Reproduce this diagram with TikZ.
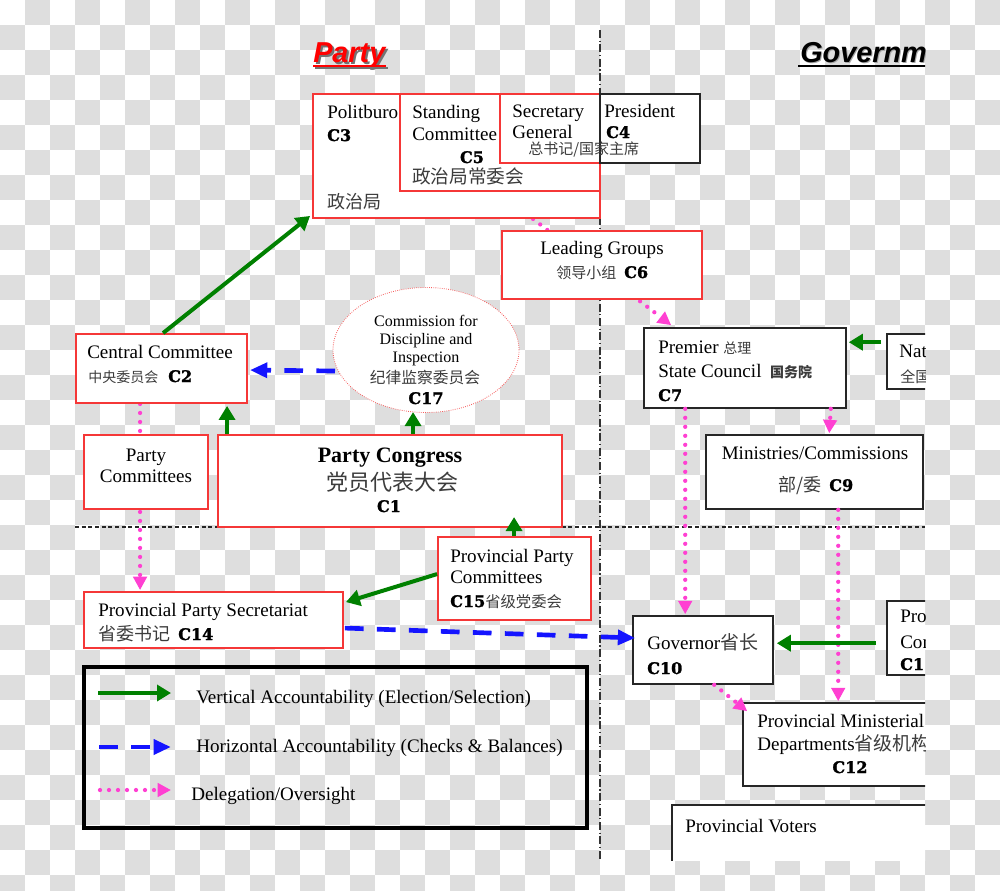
\documentclass[tikz,border=0pt]{standalone}
\usepackage{fontspec}
\setmainfont{Liberation Serif}
\newfontfamily\cjk{Noto Sans CJK SC}
\newfontfamily\clabfont{DejaVu Serif}
\newfontfamily\titlefont{Liberation Sans}
\usetikzlibrary{arrows.meta,shapes.geometric,fit,calc}
\definecolor{pred}{RGB}{245,55,55}
\definecolor{pgreen}{RGB}{0,128,0}
\definecolor{pblue}{RGB}{20,20,255}
\definecolor{pmag}{RGB}{255,64,210}
\definecolor{chk}{RGB}{222,222,222}
\definecolor{zhgray}{RGB}{60,60,60}
\newcommand\Ctag[1]{{\clabfont\bfseries\addfontfeature{FakeBold=1.6}\fontsize{12}{12}\selectfont #1}}
\newcommand\zh[2]{{\cjk\color{zhgray}\fontsize{#1}{#1}\selectfont #2}}
\pgfdeclarelayer{back}
\pgfdeclarelayer{mid}
\pgfsetlayers{back,mid,main}
\begin{document}
\begin{tikzpicture}[x=0.75pt,y=-0.75pt,
  redbox/.style={draw=pred, line width=1.4pt, fill=white, inner sep=0pt},
  blkbox/.style={draw=black!85, line width=1.2pt, fill=white, inner sep=0pt},
  tx/.style={inner sep=0pt, anchor=base west, font=\fontsize{14.3}{17}\selectfont},
  tc/.style={inner sep=0pt, anchor=base, font=\fontsize{14.3}{17}\selectfont},
  tsm/.style={inner sep=0pt, anchor=base, font=\fontsize{12}{14}\selectfont},
  ttl/.style={inner sep=0pt, anchor=base west, font=\titlefont\bfseries\itshape\fontsize{21.6}{24}\selectfont},
  garrow/.style={draw=pgreen, line width=3pt, -{Triangle[length=10.5pt,width=12pt]}},
  barrow/.style={draw=pblue, line width=3.5pt, dash pattern=on 14pt off 10pt, -{Triangle[length=13pt,width=11pt]}},
  parrow/.style={draw=pmag, line width=3.2pt, line cap=round, dash pattern=on 0pt off 6.75pt, -{Triangle[length=10pt,width=10pt]}}
]
\useasboundingbox (0,0) rectangle (1000,890);
\begin{pgfonlayer}{back}
  \fill[white] (0,0) rectangle (1000,890);
  \foreach \j in {0,...,35}{\foreach \i in {0,...,19}{
    \fill[chk] ({(2*\i+mod(\j+1,2))*25},{\j*25}) rectangle ++(25,25);}}
\end{pgfonlayer}
\begin{pgfonlayer}{mid}
  \draw[black!80, line width=1.1pt, dash pattern=on 6pt off 2pt on 0.8pt off 2pt] (600,30) -- (600,860);
  \draw[black!85, line width=1.2pt, dash pattern=on 3pt off 2pt] (75,527) -- (925,527);
\end{pgfonlayer}

\begin{scope}
\clip (0,0) rectangle (925,860);
% titles
\node[ttl, text=black!55] (ps) at (315,64) {Party};
\node[ttl, text=red] (pt) at (313,62) {Party};
\draw[black!55, line width=2.2pt] ($(ps.base west)+(0,4)$) -- ($(ps.base east)+(0,4)$);
\draw[red, line width=2.2pt] ($(pt.base west)+(0,4)$) -- ($(pt.base east)+(0,4)$);
\node[ttl, text=black!35] (gs) at (801,63) {Government};
\node[ttl, text=black] (gt) at (800,62) {Government};
\draw[black, line width=2pt] ($(gt.base west)+(-2,4)$) -- ($(gt.base east)+(0,4)$);

% boxes
\node[redbox, fit={(313,94)(600,218)}] (pb) {};
\node[redbox, fit={(400,94)(600,191)}] (sc) {};
\node[redbox, fit={(500,94)(600,163)}] (sg) {};
\node[blkbox, fit={(600,94)(700,163)}] (pres) {};
\node[redbox, fit={(502,231)(702,299)}] (lg) {};
\node[ellipse, draw=pred!80, densely dotted, line width=0.6pt, fill=white, inner sep=0pt,
      minimum width=139.5pt, minimum height=93.75pt] (cdi) at (426,350) {};
\node[redbox, fit={(76,334)(247,403)}] (cc) {};
\node[redbox, fit={(84,435)(208,509)}] (pcm) {};
\node[redbox, fit={(218,435)(562,527)}] (pcg) {};
\node[blkbox, fit={(644,328)(846,408)}] (prem) {};
\node[blkbox, fit={(887,334)(960,389)}] (nat) {};
\node[blkbox, fit={(706,435)(923,509)}] (min) {};
\node[redbox, fit={(438,537)(591,620)}] (ppc) {};
\node[redbox, fit={(84,592)(343,648)}] (pps) {};
\node[blkbox, fit={(633,616)(773,684)}] (gov) {};
\node[blkbox, fit={(743,703)(960,786)}] (pmd) {};
\node[blkbox, fit={(887,601)(960,675)}] (pro) {};
\node[blkbox, fit={(672,805)(960,900)}] (vot) {};
\node[draw=black, line width=2.4pt, inner sep=0pt, fit={(84,667)(587,828)}] (leg) {};

% texts
\node[tx] (t1) at (327,118) {Politburo};
\node[tx] (t2) at (327,141) {\Ctag{C3}};
\node[tx] (t3) at (327,208) {\zh{13.5}{政治局}};
\node[tx] (t4) at (412,118) {Standing};
\node[tx] (t5) at (412,140) {Committee};
\node[tc] (t6) at (472,163) {\Ctag{C5}};
\node[tx] (t7) at (412,183) {\zh{14}{政治局常委会}};
\node[tx] (t8) at (512,117) {Secretary};
\node[tx] (t9) at (512,138) {General};
\node[tx] (t10) at (604,117) {President};
\node[tx] (t11) at (606,138) {\Ctag{C4}};
\node[tx] (t12) at (528,154) {\zh{11.25}{总书记/国家主席}};
\node[tc] (t13) at (602,254) {Leading Groups};
\node[tx] (t14) at (556,278) {\zh{11.25}{领导小组}\hspace{6pt}\Ctag{C6}};
\node[tx] (t15) at (87,358) {Central Committee};
\node[tx] (t16) at (88,382) {\zh{10.5}{中央委员会}\hspace{7.5pt}\Ctag{C2}};
\node[tsm] (t17) at (426,326) {Commission for};
\node[tsm] (t18) at (426,344) {Discipline and};
\node[tsm] (t19) at (426,362) {Inspection};
\node[tc] (t20) at (425,383) {\zh{11.8}{纪律监察委员会}};
\node[tc] (t21) at (426,404) {\Ctag{C17}};
\node[tc] (t22) at (146,461) {Party};
\node[tc] (t23) at (146,482) {Committees};
\node[tc, font=\bfseries\fontsize{16.5}{18}\selectfont] (t24) at (390,462) {Party Congress};
\node[tc] (t25) at (392,490) {\zh{16.5}{党员代表大会}};
\node[tc] (t26) at (389,512) {\Ctag{C1}};
\node[tx] (t27) at (658,353) {Premier \zh{10.5}{总理}};
\node[tx] (t28) at (658,377) {State Council\hspace{6.5pt}\zh{10.5}{\bfseries 国务院}};
\node[tx] (t29) at (658,401) {\Ctag{C7}};
\node[tx] (t30) at (899,357) {National};
\node[tx] (t31) at (900,382) {\zh{11.25}{全国人大}};
\node[tc] (t32) at (815,459) {Ministries/Commissions};
\node[tx] (t33) at (778,491) {\zh{13.5}{部/委}\hspace{6pt}\Ctag{C9}};
\node[tx] (t34) at (450,562) {Provincial Party};
\node[tx] (t35) at (450,583) {Committees};
\node[tx] (t36) at (450,607) {\Ctag{C15}\zh{11.5}{省级党委会}};
\node[tx] (t37) at (98,616) {Provincial Party Secretariat};
\node[tx] (t38) at (98,640) {\zh{13.5}{省委书记}\hspace{6pt}\Ctag{C14}};
\node[tx] (t39) at (647,649) {Governor\zh{14.25}{省长}};
\node[tx] (t40) at (647,674) {\Ctag{C10}};
\node[tx] (t41) at (757,727) {Provincial Ministerial};
\node[tx] (t42) at (757,750) {Departments\zh{14.25}{省级机构}};
\node[tc] (t43) at (850,773) {\Ctag{C12}};
\node[tx] (t44) at (900,622) {Provincial};
\node[tx] (t45) at (900,648) {Congress};
\node[tx] (t46) at (900,670) {\Ctag{C11}};
\node[tx] (t47) at (685,832) {Provincial Voters};
\node[tx] (t48) at (196,703) {Vertical Accountability (Election/Selection)};
\node[tx] (t49) at (196,752) {Horizontal Accountability (Checks \& Balances)};
\node[tx] (t50) at (191,800) {Delegation/Oversight};
\end{scope}

% connectors passing behind boxes
\begin{pgfonlayer}{mid}
  \draw[parrow] ($(cc.south west)+(65,0)$) -- ($(pps.north west)+(57,-1)$);
  \draw[parrow] ($(pb.south west)+(221,0)$) -- ($(prem.north west)+(28,-2)$);
\end{pgfonlayer}

% connectors on top
\draw[garrow] ($(cc.north west)+(88,0)$) -- ($(pb.south west)+(-2,-3)$);
\draw[garrow] ($(pcg.north west)+(10,0)$) -- ($(cc.south west)+(152,2)$);
\draw[garrow] ($(pcg.north west)+(196,0)$) -- ($(pcg.north west)+(196,-22)$);
\draw[garrow] ($(ppc.north west)+(0,38)$) -- ($(pps.north east)+(2,11)$);
\draw[garrow] ($(ppc.north west)+(77,0)$) -- ($(ppc.north west)+(77,-19)$);
\draw[garrow] ($(nat.north west)+(-5,9)$) -- ($(prem.north east)+(2,15)$);
\draw[barrow] ($(cdi.center)+(-91,21)$) -- ($(cc.north east)+(2,37)$);
\draw[barrow] ($(pps.north east)+(1,37)$) -- ($(gov.west)+(3,-12)$);
\draw[parrow] ($(prem.south west)+(42,0)$) -- ($(gov.north west)+(53,-1)$);
\draw[parrow] ($(prem.south east)+(-16,0)$) -- ($(min.north west)+(124,-1)$);
\draw[parrow] ($(min.south west)+(133,0)$) -- ($(pmd.north west)+(96,-1)$);
\draw[garrow] ($(pro.north west)+(-10,43)$) -- ($(gov.north east)+(3,28)$);
\draw[parrow] ($(gov.south west)+(82,0)$) -- ($(pmd.north west)+(5,9)$);

% legend samples
\coordinate (la1) at (98,693);  \coordinate (lb1) at (171,693);
\coordinate (la2) at (99,747);  \coordinate (lb2) at (171,747);
\coordinate (la3) at (100,790); \coordinate (lb3) at (171,790);
\draw[garrow] (la1) -- (lb1);
\draw[barrow] (la2) -- (lb2);
\draw[parrow] (la3) -- (lb3);
\end{tikzpicture}
\end{document}
